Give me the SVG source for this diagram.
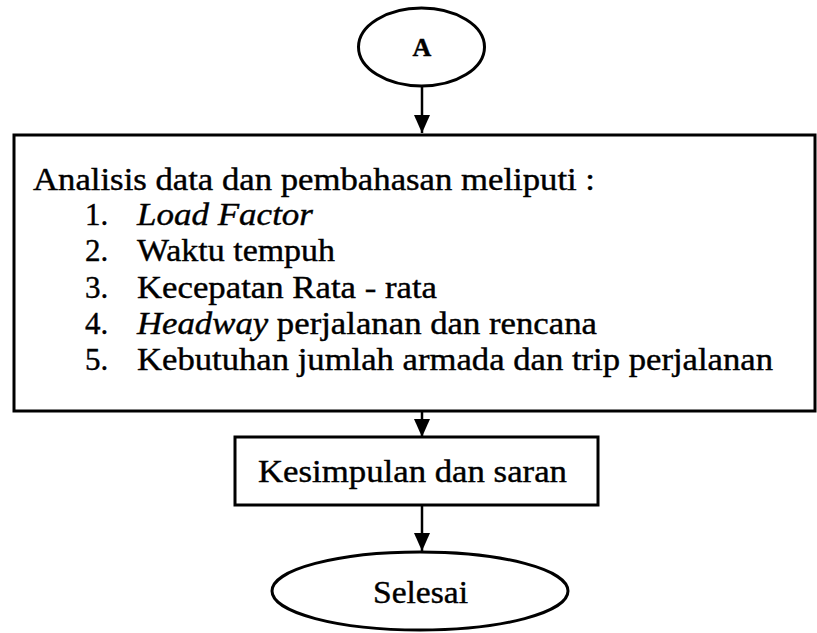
<svg xmlns="http://www.w3.org/2000/svg" width="817" height="633" viewBox="0 0 817 633">
<style>
.shape{fill:#fff;stroke:#000;stroke-width:3}
.conn{stroke:#000;stroke-width:2.5;fill:none}
text{font-family:"Liberation Serif","Times New Roman",serif;fill:#000;stroke:#000;stroke-width:0.4}
.t{font-size:31px}
.a{font-size:26px;font-weight:bold}
</style>
<defs>
<marker id="arr" markerWidth="18" markerHeight="16" viewBox="0 0 18 16" refX="18" refY="8" orient="auto" markerUnits="userSpaceOnUse">
<path d="M0,0 L18,8 L0,16 Z" fill="#000"/>
</marker>
</defs>
<g id="connectors">
<line class="conn" x1="422" y1="86" x2="422" y2="133" marker-end="url(#arr)"/>
<line class="conn" x1="422" y1="412" x2="422" y2="437" marker-end="url(#arr)"/>
<line class="conn" x1="422" y1="505" x2="422" y2="551" marker-end="url(#arr)"/>
</g>
<g id="nodeA">
<ellipse class="shape" cx="421.5" cy="47" rx="63" ry="39"/>
<text class="a" x="422" y="56" text-anchor="middle">A</text>
</g>
<g id="nodeAnalisis">
<rect class="shape" x="14" y="135" width="801" height="276"/>
<text class="t" x="33" y="190" textLength="562" lengthAdjust="spacingAndGlyphs">Analisis data dan pembahasan meliputi :</text>
<text class="t" x="85" y="225">1.</text><text class="t" x="137" y="225" font-style="italic" textLength="176" lengthAdjust="spacingAndGlyphs">Load Factor</text>
<text class="t" x="85" y="261">2.</text><text class="t" x="137" y="261" textLength="198" lengthAdjust="spacingAndGlyphs">Waktu tempuh</text>
<text class="t" x="85" y="298">3.</text><text class="t" x="137" y="298" textLength="300" lengthAdjust="spacingAndGlyphs">Kecepatan Rata - rata</text>
<text class="t" x="85" y="334">4.</text><text class="t" x="137" y="334" textLength="460" lengthAdjust="spacingAndGlyphs"><tspan font-style="italic">Headway</tspan> perjalanan dan rencana</text>
<text class="t" x="85" y="370">5.</text><text class="t" x="137" y="370" textLength="636" lengthAdjust="spacingAndGlyphs">Kebutuhan jumlah armada dan trip perjalanan</text>
</g>
<g id="nodeKesimpulan">
<rect class="shape" x="235" y="437" width="363" height="68"/>
<text class="t" x="258" y="482" textLength="309" lengthAdjust="spacingAndGlyphs">Kesimpulan dan saran</text>
</g>
<g id="nodeSelesai">
<ellipse class="shape" cx="420" cy="591" rx="148" ry="39"/>
<text class="t" x="373" y="603" textLength="95" lengthAdjust="spacingAndGlyphs">Selesai</text>
</g>
</svg>
